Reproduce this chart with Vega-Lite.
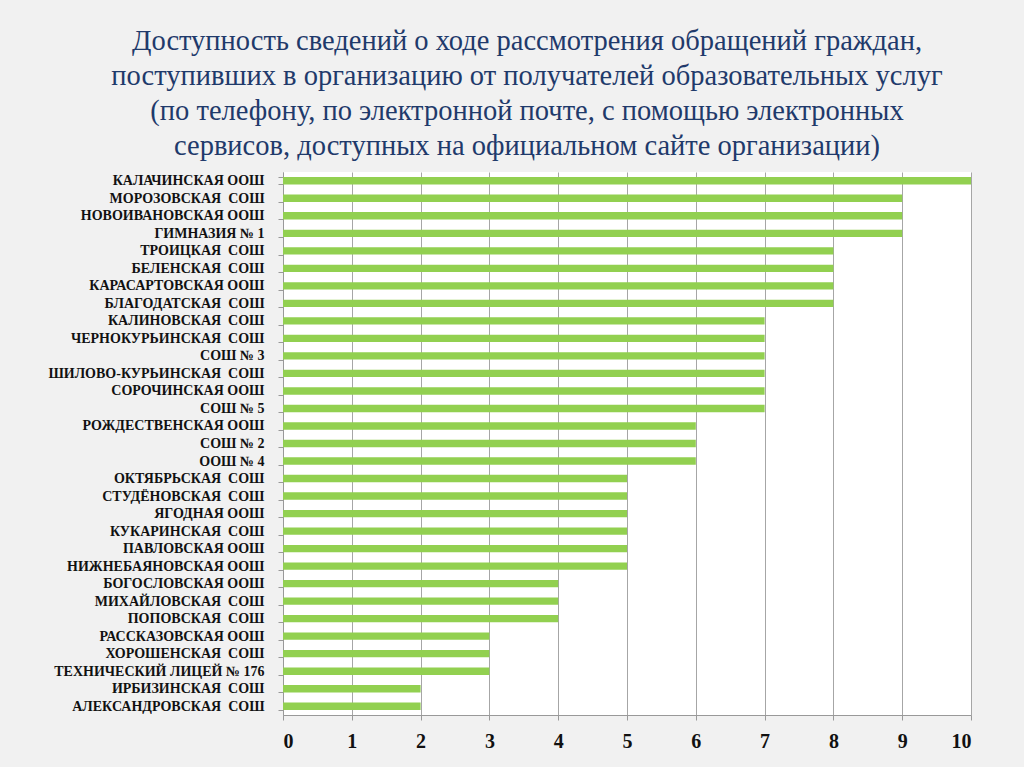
{
  "$schema": "https://vega.github.io/schema/vega-lite/v6.json",
  "width": 688,
  "height": 543,
  "autosize": "none",
  "padding": {"left": 283, "top": 172, "right": 53, "bottom": 52},
  "background": "#f1f1f1",
  "config": {
    "view": {"fill": "#ffffff", "stroke": null},
    "font": "Liberation Serif"
  },
  "title": {
    "text": [
      "Доступность сведений о ходе рассмотрения обращений граждан,",
      "поступивших в организацию от получателей образовательных услуг",
      "(по телефону, по электронной почте, с помощью электронных",
      "сервисов, доступных на официальном сайте организации)"
    ],
    "font": "Liberation Serif",
    "fontSize": 28.5,
    "fontWeight": "normal",
    "color": "#1f3a6b",
    "lineHeight": 35,
    "anchor": "middle",
    "frame": "group",
    "dx": -100,
    "offset": 5
  },
  "data": {
    "values": [
      {"school": "КАЛАЧИНСКАЯ ООШ", "value": 10},
      {"school": "МОРОЗОВСКАЯ\u00a0\u00a0СОШ", "value": 9},
      {"school": "НОВОИВАНОВСКАЯ ООШ", "value": 9},
      {"school": "ГИМНАЗИЯ № 1", "value": 9},
      {"school": "ТРОИЦКАЯ\u00a0\u00a0СОШ", "value": 8},
      {"school": "БЕЛЕНСКАЯ\u00a0\u00a0СОШ", "value": 8},
      {"school": "КАРАСАРТОВСКАЯ ООШ", "value": 8},
      {"school": "БЛАГОДАТСКАЯ\u00a0\u00a0СОШ", "value": 8},
      {"school": "КАЛИНОВСКАЯ\u00a0\u00a0СОШ", "value": 7},
      {"school": "ЧЕРНОКУРЬИНСКАЯ\u00a0\u00a0СОШ", "value": 7},
      {"school": "СОШ № 3", "value": 7},
      {"school": "ШИЛОВО-КУРЬИНСКАЯ\u00a0\u00a0СОШ", "value": 7},
      {"school": "СОРОЧИНСКАЯ ООШ", "value": 7},
      {"school": "СОШ № 5", "value": 7},
      {"school": "РОЖДЕСТВЕНСКАЯ ООШ", "value": 6},
      {"school": "СОШ № 2", "value": 6},
      {"school": "ООШ № 4", "value": 6},
      {"school": "ОКТЯБРЬСКАЯ\u00a0\u00a0СОШ", "value": 5},
      {"school": "СТУДЁНОВСКАЯ\u00a0\u00a0СОШ", "value": 5},
      {"school": "ЯГОДНАЯ ООШ", "value": 5},
      {"school": "КУКАРИНСКАЯ\u00a0\u00a0СОШ", "value": 5},
      {"school": "ПАВЛОВСКАЯ ООШ", "value": 5},
      {"school": "НИЖНЕБАЯНОВСКАЯ ООШ", "value": 5},
      {"school": "БОГОСЛОВСКАЯ ООШ", "value": 4},
      {"school": "МИХАЙЛОВСКАЯ\u00a0\u00a0СОШ", "value": 4},
      {"school": "ПОПОВСКАЯ\u00a0\u00a0СОШ", "value": 4},
      {"school": "РАССКАЗОВСКАЯ ООШ", "value": 3},
      {"school": "ХОРОШЕНСКАЯ\u00a0\u00a0СОШ", "value": 3},
      {"school": "ТЕХНИЧЕСКИЙ ЛИЦЕЙ № 176", "value": 3},
      {"school": "ИРБИЗИНСКАЯ\u00a0\u00a0СОШ", "value": 2},
      {"school": "АЛЕКСАНДРОВСКАЯ\u00a0\u00a0СОШ", "value": 2}
    ]
  },
  "mark": {"type": "bar", "color": "#92d050"},
  "encoding": {
    "y": {
      "field": "school",
      "type": "nominal",
      "sort": null,
      "scale": {"paddingInner": 0.58, "paddingOuter": 0.29},
      "axis": {
        "title": null,
        "labelFont": "Liberation Serif",
        "labelFontSize": 14,
        "labelFontWeight": "bold",
        "labelColor": "#111111",
        "labelPadding": 14,
        "labelLimit": 400,
        "tickBand": "extent",
        "tickColor": "#999999",
        "tickSize": 5,
        "domainColor": "#999999",
        "grid": false
      }
    },
    "x": {
      "field": "value",
      "type": "quantitative",
      "scale": {"domain": [0, 10], "nice": false},
      "axis": {
        "title": null,
        "values": [0, 1, 2, 3, 4, 5, 6, 7, 8, 9, 10],
        "labelFont": "Liberation Serif",
        "labelFontSize": 20,
        "labelFontWeight": "bold",
        "labelColor": "#111111",
        "labelPadding": 11,
        "tickSize": 5,
        "tickColor": "#999999",
        "domainColor": "#999999",
        "grid": true,
        "gridColor": "#a6a6a6",
        "gridWidth": 1
      }
    }
  }
}
